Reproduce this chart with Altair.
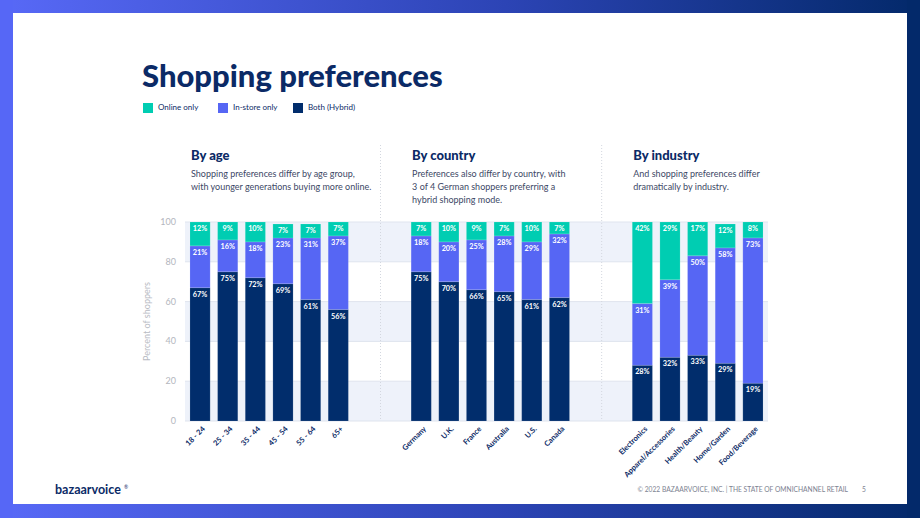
import altair as alt
import pandas as pd

# ---------------- data ----------------
age_groups = ["18 - 24", "25 - 34", "35 - 44", "45 - 54", "55 - 64", "65+"]
age_online = [12, 9, 10, 7, 7, 7]
age_instore = [21, 16, 18, 23, 31, 37]
age_both = [67, 75, 72, 69, 61, 56]

countries = ["Germany", "U.K.", "France", "Australia", "U.S.", "Canada"]
country_online = [7, 10, 9, 7, 10, 7]
country_instore = [18, 20, 25, 28, 29, 32]
country_both = [75, 70, 66, 65, 61, 62]

industries = ["Electronics", "Apparel/Accessories", "Health/Beauty", "Home/Garden", "Food/Beverage"]
ind_online = [42, 29, 17, 12, 8]
ind_instore = [31, 39, 50, 58, 73]
ind_both = [28, 32, 33, 29, 19]

series_names = ["Online only", "In-store only", "Both (Hybrid)"]
series_colors = ["#00cdb2", "#5666f4", "#012d6c"]
y_ticks = [0, 20, 40, 60, 80, 100]

spacers = [" ", "  ", "   ", "    "]
x_domain = age_groups + spacers[:2] + countries + spacers[2:] + industries

sections = [
    {"cat": age_groups[0], "head": "By age",
     "desc": ["Shopping preferences differ by age group,", "with younger generations buying more online."]},
    {"cat": countries[0], "head": "By country",
     "desc": ["Preferences also differ by country, with", "3 of 4 German shoppers preferring a", "hybrid shopping mode."]},
    {"cat": industries[0], "head": "By industry",
     "desc": ["And shopping preferences differ", "dramatically by industry."]},
]

rows = []
for cats, on, ins, both in [
    (age_groups, age_online, age_instore, age_both),
    (countries, country_online, country_instore, country_both),
    (industries, ind_online, ind_instore, ind_both),
]:
    for i, c in enumerate(cats):
        rows.append({"cat": c, "series": "Both (Hybrid)", "value": both[i], "order": 0})
        rows.append({"cat": c, "series": "In-store only", "value": ins[i], "order": 1})
        rows.append({"cat": c, "series": "Online only", "value": on[i], "order": 2})
df = pd.DataFrame(rows)

W, H = 583, 199
PL, PT = 185, 222
NAVY = "#0b2a66"
FONT = "Lato"
AXIS_GRAY = "#b3b6be"

xscale = alt.Scale(domain=x_domain, paddingInner=0.27, paddingOuter=0.18)
yscale = alt.Scale(domain=[0, 100], nice=False, clamp=True)

one = alt.Data(values=[{"a": 1}])

# frame: gradient border strips around the white page
grad = alt.Gradient(
    gradient="linear", x1=0, x2=1, y1=0, y2=0,
    stops=[alt.GradientStop(color="#5869f7", offset=0),
           alt.GradientStop(color="#2c44b5", offset=0.55),
           alt.GradientStop(color="#03296a", offset=1)],
)
top_strip = alt.Chart(one).mark_rect(fill=grad).encode(
    x=alt.value(-PL), x2=alt.value(920 - PL), y=alt.value(-PT), y2=alt.value(13 - PT))
bot_strip = alt.Chart(one).mark_rect(fill=grad).encode(
    x=alt.value(-PL), x2=alt.value(920 - PL), y=alt.value(504 - PT), y2=alt.value(518 - PT))
left_strip = alt.Chart(one).mark_rect(fill="#5667f6").encode(
    x=alt.value(-PL), x2=alt.value(13 - PL), y=alt.value(-PT), y2=alt.value(518 - PT))
right_strip = alt.Chart(one).mark_rect(fill="#03296a").encode(
    x=alt.value(907 - PL), x2=alt.value(920 - PL), y=alt.value(-PT), y2=alt.value(518 - PT))

bands = alt.Chart(pd.DataFrame({"start": [0, 40, 80], "end": [20, 60, 100]})).mark_rect(
    fill="#eef2fa"
).encode(
    x=alt.value(0), x2=alt.value(W),
    y=alt.Y("start:Q", scale=yscale, axis=None), y2="end:Q",
)

tick_df = pd.DataFrame({"v": y_ticks})
grid = alt.Chart(tick_df).mark_rule(color="#dfe4ee", strokeWidth=1).encode(
    x=alt.value(0), x2=alt.value(W), y=alt.Y("v:Q", scale=yscale, axis=None)
)

# y axis labels and title (positioned by the y scale)
ylabels = alt.Chart(tick_df).mark_text(
    font=FONT, fontSize=9, color=AXIS_GRAY, align="right", baseline="middle"
).encode(
    x=alt.value(-9), y=alt.Y("v:Q", scale=yscale, axis=None), text=alt.Text("v:Q")
)
ytitle = alt.Chart(one).mark_text(
    text="Percent of shoppers", font=FONT, fontSize=9, color="#b8bbc3", angle=270,
    align="center", baseline="middle"
).encode(x=alt.value(147 - PL), y=alt.value(H / 2))

seps = alt.Chart(pd.DataFrame({"cat": [spacers[0], spacers[2]]})).mark_rule(
    color="#d3d7df", strokeDash=[1, 2], strokeWidth=1, xOffset=4.5
).encode(
    x=alt.X("cat:N", scale=xscale, axis=None, bandPosition=1),
    y=alt.value(145 - PT), y2=alt.value(H),
)

base = alt.Chart(df).transform_stack(
    stack="value", groupby=["cat"], as_=["y0", "y1"], sort=[alt.SortField("order", order="ascending")]
)

bars = base.mark_bar(stroke="#ffffff", strokeOpacity=0.25, strokeWidth=0.5).encode(
    x=alt.X("cat:N", scale=xscale, axis=None),
    y=alt.Y("y0:Q", scale=yscale, axis=None),
    y2="y1:Q",
    color=alt.Color("series:N",
                    scale=alt.Scale(domain=series_names, range=series_colors),
                    legend=alt.Legend(orient="none", legendX=143 - PL, legendY=103 - PT,
                                      direction="horizontal", columns=3, gridAlign="all",
                                      title=None, symbolType="square", symbolSize=100,
                                      symbolStrokeWidth=0, symbolOpacity=1,
                                      labelFont=FONT, labelFontSize=8, labelColor=NAVY,
                                      labelOffset=5, columnPadding=12, zindex=1)),
)

labels = base.mark_text(
    font=FONT, fontWeight="bold", fontSize=7.3, color="white", baseline="middle", dy=7
).encode(
    x=alt.X("cat:N", scale=xscale, axis=None),
    y=alt.Y("y1:Q", scale=yscale, axis=None),
    text=alt.Text("label:N"),
).transform_calculate(label="datum.value + '%'")

# x axis category labels (positioned by the x scale)
xcats = pd.DataFrame({"cat": age_groups + countries + industries})
xlabels = alt.Chart(xcats).mark_text(
    font=FONT, fontWeight="bold", fontSize=7.5, color=NAVY, angle=315,
    align="right", baseline="middle", xOffset=4
).encode(
    x=alt.X("cat:N", scale=xscale, axis=None),
    y=alt.value(H + 7),
    text="cat:N",
)

sec_df = pd.DataFrame(sections)
heads = alt.Chart(sec_df).mark_text(
    font=FONT, fontWeight=900, fontSize=13, color=NAVY, align="left", baseline="alphabetic", dx=1
).encode(
    x=alt.X("cat:N", scale=xscale, axis=None, bandPosition=0),
    y=alt.value(160 - PT),
    text="head:N",
)
descs = alt.Chart(sec_df).mark_text(
    font=FONT, fontSize=9, color="#3d4866", align="left", baseline="alphabetic", dx=1, lineHeight=13
).encode(
    x=alt.X("cat:N", scale=xscale, axis=None, bandPosition=0),
    y=alt.value(177 - PT),
    text="desc",
)

title = alt.Chart(one).mark_text(
    text="Shopping preferences", font=FONT, fontWeight=900, fontSize=31, color=NAVY,
    align="left", baseline="alphabetic"
).encode(x=alt.value(142 - PL), y=alt.value(87 - PT))

logo = alt.Chart(one).mark_text(
    text="bazaarvoice", font=FONT, fontWeight="bold", fontSize=12.5, color=NAVY,
    align="left", baseline="alphabetic"
).encode(x=alt.value(55 - PL), y=alt.value(494 - PT))
logo_r = alt.Chart(one).mark_text(
    text="®", font=FONT, fontSize=5, color=NAVY, align="left", baseline="alphabetic"
).encode(x=alt.value(124 - PL), y=alt.value(489 - PT))

footer = alt.Chart(one).mark_text(
    text="© 2022 BAZAARVOICE, INC.  |  THE STATE OF OMNICHANNEL RETAIL", font=FONT, fontSize=6.7,
    color="#7d8291", align="right", baseline="alphabetic"
).encode(x=alt.value(848 - PL), y=alt.value(492 - PT))
page = alt.Chart(one).mark_text(
    text="5", font=FONT, fontSize=6.7, color="#7d8291", align="left", baseline="alphabetic"
).encode(x=alt.value(862 - PL), y=alt.value(492 - PT))

chart = alt.layer(
    top_strip, bot_strip, left_strip, right_strip, bands, grid, seps, bars, labels,
    ylabels, ytitle, xlabels, heads, descs, title, logo, logo_r, footer, page
).properties(
    width=W, height=H,
    autosize=alt.AutoSizeParams(type="none"),
    padding={"left": PL, "top": PT, "right": 920 - PL - W, "bottom": 518 - PT - H},
    background="white",
).configure_view(stroke=None)

chart.save("out.html", embed_options={"renderer": "svg", "actions": False})
